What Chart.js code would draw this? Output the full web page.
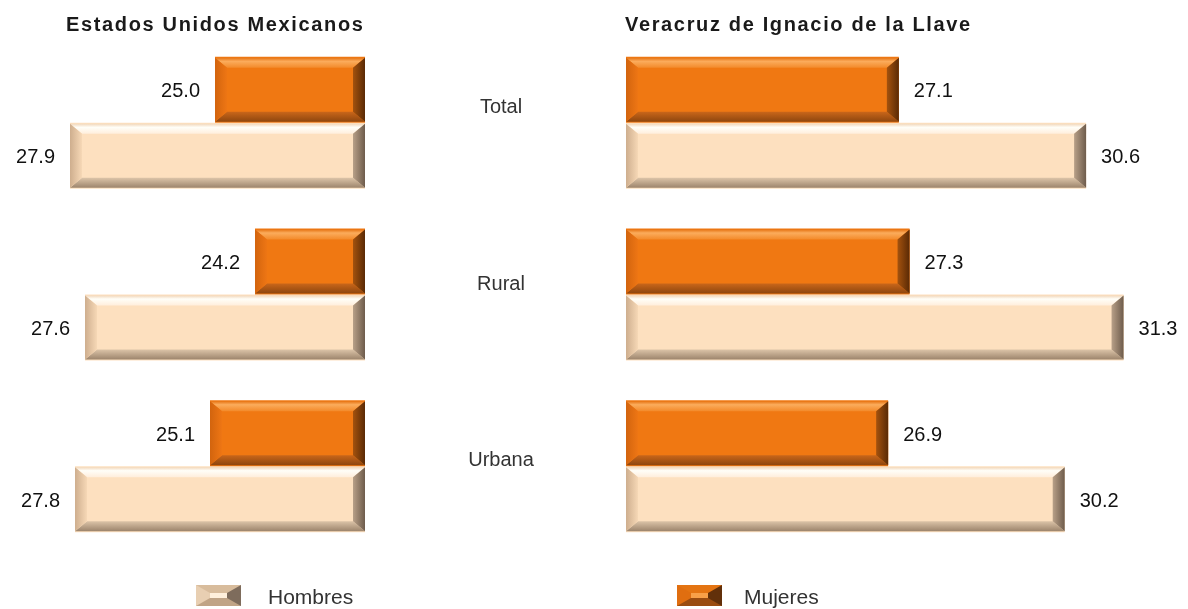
<!DOCTYPE html>
<html><head><meta charset="utf-8">
<script src="https://cdn.jsdelivr.net/npm/chart.js@4"></script>
<style>
html,body{margin:0;padding:0;background:#fff;}
#wrap{position:relative;width:1188px;height:609px;overflow:hidden;font-family:"Liberation Sans",Arial,sans-serif;}
#wrap canvas{position:absolute;left:0;top:0;}
.title{position:absolute;top:12px;font-weight:bold;font-size:20px;letter-spacing:1.65px;color:#1a1a1a;white-space:nowrap;line-height:24px;}
.leg{position:absolute;top:585px;height:21px;display:flex;align-items:center;}
.icon{box-sizing:border-box;width:45px;height:21px;border-style:solid;border-width:8px 14px;}
.legtxt{position:absolute;top:585px;font-size:21px;color:#333;line-height:24px;}
</style>
</head><body>
<div id="wrap">
  <canvas id="left" width="1188" height="609"></canvas>
  <canvas id="right" width="1188" height="609"></canvas>
  <div class="title" id="t1" style="left:66px"></div>
  <div class="title" id="t2" style="left:625px"></div>
  <div class="leg" style="left:196px"><div class="icon" style="background:#fff0dc;border-color:#d8bc9c #7e6c5c #c0a486 #e8cfb2;"></div></div>
  <div class="legtxt" id="l1" style="left:268px"></div>
  <div class="leg" style="left:677px"><div class="icon" style="background:#f8a048;border-color:#e47412 #62300a #9a4c10 #e06e10;"></div></div>
  <div class="legtxt" id="l2" style="left:744px"></div>
</div>
<script>
const categories = ['Total', 'Rural', 'Urbana'];
const seriesNames = ['Hombres', 'Mujeres'];
const panelTitles = ['Estados Unidos Mexicanos', 'Veracruz de Ignacio de la Llave'];
const nacionalHombres = [27.9, 27.6, 27.8];
const nacionalMujeres = [25.0, 24.2, 25.1];
const veracruzHombres = [30.6, 31.3, 30.2];
const veracruzMujeres = [27.1, 27.3, 26.9];

document.getElementById('t1').textContent = panelTitles[0];
document.getElementById('t2').textContent = panelTitles[1];
document.getElementById('l1').textContent = seriesNames[0];
document.getElementById('l2').textContent = seriesNames[1];

const FONT = '"Liberation Sans", Arial, sans-serif';
const bevelStyles = {
  Mujeres: {base:'#f07812', top:['#e67414','#fbac5c','#f38a2a'], bottom:['#8e460e','#c9661a'], left:['#d2640e','#ee7614'], right:['#5a2a05','#a4520e']},
  Hombres: {base:'#fde0bf', top:['#f2d8bc','#fffef8','#ffeedc'], bottom:['#9c846c','#dcc4a8'], left:['#ceae8e','#f6d8b6'], right:['#6e5c4c','#b8a088']}
};

function poly(ctx, pts, grad) {
  ctx.beginPath();
  ctx.moveTo(pts[0][0], pts[0][1]);
  for (let i = 1; i < pts.length; i++) ctx.lineTo(pts[i][0], pts[i][1]);
  ctx.closePath();
  ctx.fillStyle = grad;
  ctx.fill();
}

const bevelPlugin = {
  id: 'bevel',
  afterDatasetsDraw(chart, args, opts) {
    const ctx = chart.ctx;
    chart.data.datasets.forEach((ds, di) => {
      const meta = chart.getDatasetMeta(di);
      const st = bevelStyles[ds.label];
      meta.data.forEach((el, i) => {
        const p = el.getProps(['x', 'y', 'base', 'height'], true);
        const x0 = Math.min(p.x, p.base), x1 = Math.max(p.x, p.base);
        const y0 = p.y - p.height / 2 + 1, y1 = p.y + p.height / 2 - 1;
        const bx = 12, by = 10;
        ctx.save();
        ctx.fillStyle = st.base;
        ctx.fillRect(x0, y0, x1 - x0, y1 - y0);
        let g = ctx.createLinearGradient(0, y0, 0, y0 + by);
        g.addColorStop(0, st.top[0]); g.addColorStop(0.35, st.top[1]); g.addColorStop(1, st.top[2]);
        poly(ctx, [[x0, y0], [x1, y0], [x1 - bx, y0 + by], [x0 + bx, y0 + by]], g);
        g = ctx.createLinearGradient(0, y1, 0, y1 - by);
        g.addColorStop(0, st.bottom[0]); g.addColorStop(1, st.bottom[1]);
        poly(ctx, [[x0, y1], [x1, y1], [x1 - bx, y1 - by], [x0 + bx, y1 - by]], g);
        g = ctx.createLinearGradient(x0, 0, x0 + bx, 0);
        g.addColorStop(0, st.left[0]); g.addColorStop(1, st.left[1]);
        poly(ctx, [[x0, y0], [x0 + bx, y0 + by], [x0 + bx, y1 - by], [x0, y1]], g);
        g = ctx.createLinearGradient(x1, 0, x1 - bx, 0);
        g.addColorStop(0, st.right[0]); g.addColorStop(1, st.right[1]);
        poly(ctx, [[x1, y0], [x1 - bx, y0 + by], [x1 - bx, y1 - by], [x1, y1]], g);
        const v = ds.data[i];
        ctx.fillStyle = '#111';
        ctx.font = '20px ' + FONT;
        ctx.textBaseline = 'middle';
        if (opts.side === 'left') { ctx.textAlign = 'right'; ctx.fillText(v.toFixed(1), x0 - 15, p.y + 2); }
        else { ctx.textAlign = 'left'; ctx.fillText(v.toFixed(1), x1 + 15, p.y + 2); }
        ctx.restore();
      });
    });
    if (opts.categories) {
      const ys = chart.scales.y;
      ctx.save();
      ctx.fillStyle = '#333';
      ctx.font = '20px ' + FONT;
      ctx.textAlign = 'center';
      ctx.textBaseline = 'middle';
      chart.data.labels.forEach((lab, i) => {
        ctx.fillText(lab, 501, ys.getPixelForValue(i) - 15 + 4.5 * i);
      });
      ctx.restore();
    }
  }
};

function makeChart(id, mujeres, hombres, side, pad, max) {
  return new Chart(document.getElementById(id), {
    type: 'bar',
    data: {
      labels: categories,
      datasets: [
        {label: seriesNames[1], data: mujeres, backgroundColor: bevelStyles.Mujeres.base, base: 22},
        {label: seriesNames[0], data: hombres, backgroundColor: bevelStyles.Hombres.base, base: 22}
      ]
    },
    options: {
      indexAxis: 'y',
      responsive: false,
      animation: false,
      layout: {padding: pad},
      datasets: {bar: {categoryPercentage: 0.769, barPercentage: 1}},
      scales: {
        x: {display: false, min: 22, max: max, reverse: side === 'left'},
        y: {display: false}
      },
      plugins: {
        legend: {display: false},
        tooltip: {enabled: false},
        bevel: {side: side, categories: side === 'right'}
      }
    },
    plugins: [bevelPlugin]
  });
}

makeChart('left', nacionalMujeres, nacionalHombres, 'left', {left: 65, right: 823, top: 37, bottom: 57}, 28);
makeChart('right', veracruzMujeres, veracruzHombres, 'right', {left: 626, right: 27, top: 37, bottom: 57}, 32);
</script>
</body></html>
